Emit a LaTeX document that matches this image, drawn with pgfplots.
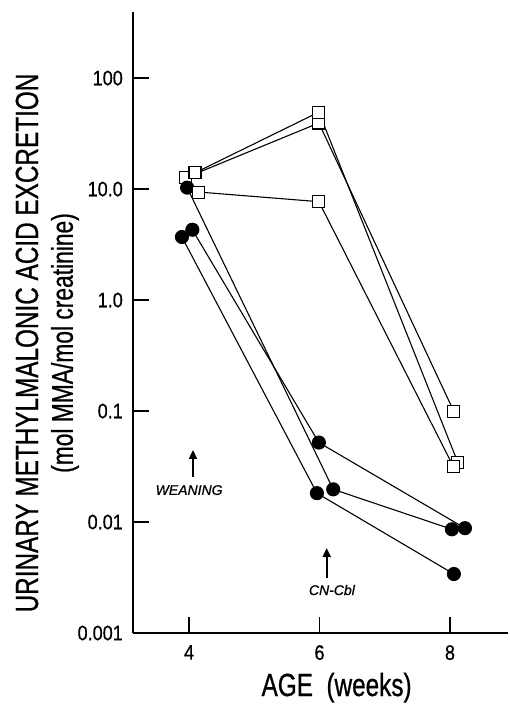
\documentclass[border=0pt]{standalone}
\usepackage{fontspec}
\setmainfont{Liberation Sans}
\newfontfamily\cond[FakeStretch=0.76,FakeBold=0.7]{Liberation Sans}
\newfontfamily\condt[FakeStretch=0.86,FakeBold=0.6]{Liberation Sans}
\newfontfamily\annot[FakeBold=0.9]{Liberation Sans}
\usepackage{pgfplots}
\pgfplotsset{compat=1.18}
\usetikzlibrary{arrows.meta}
\begin{document}
\begin{tikzpicture}
\begin{axis}[
  scale only axis, width=375pt, height=621pt,
  xmin=3.14, xmax=8.89,
  ymode=log, log basis y=10, ymin=0.001, ymax=394,
  axis x line*=bottom, axis y line*=left,
  axis line style={line width=1.8pt},
  xtick={4,6,8}, xticklabels={4,6,8},
  ytick={0.001,0.01,0.1,1,10,100},
  yticklabels={0.001,0.01,0.1,1.0,10.0,100},
  yminorticks=false, xminorticks=false,
  tick align=inside, major tick length=16pt,
  tick style={line width=1.4pt, black},
  yticklabel style={font=\condt\fontsize{21}{21}\selectfont, inner sep=0pt, xshift=-10pt},
  xticklabel style={font=\condt\fontsize{21}{21}\selectfont, inner sep=0pt, yshift=-12pt},
  clip=false,
]
% square series (partly hidden one first)
\addplot[black, line width=1.1pt, mark=square*, mark size=6pt, mark options={fill=white, line width=1.1pt}]
  coordinates {(3.94,12.6) (5.99,39.4) (8.06,0.099)};
% circle series
\addplot[black, line width=1.1pt, mark=*, mark size=6.5pt, mark options={fill=black}]
  coordinates {(3.97,10.3) (6.21,0.0197) (8.03,0.0086)};
\addplot[black, line width=1.1pt, mark=*, mark size=6.5pt, mark options={fill=black}]
  coordinates {(3.89,3.7) (5.96,0.0182) (8.06,0.0034)};
\addplot[black, line width=1.1pt, mark=*, mark size=6.5pt, mark options={fill=black}]
  coordinates {(4.05,4.3) (5.99,0.052) (8.23,0.0088)};
% remaining square series
\addplot[black, line width=1.1pt, mark=square*, mark size=6pt, mark options={fill=white, line width=1.1pt}]
  coordinates {(4.09,14.0) (5.99,49.4) (8.12,0.0345)};
\addplot[black, line width=1.1pt, mark=square*, mark size=6pt, mark options={fill=white, line width=1.1pt}]
  coordinates {(4.15,9.4) (5.99,7.7) (8.05,0.0318)};
% annotations
\draw[line width=2pt, -{Triangle[length=9pt,width=8pt]}] (axis cs:4.06,0.0254) -- (axis cs:4.06,0.0446);
\node[font=\annot\itshape\fontsize{14}{14}\selectfont] at (axis cs:4.0,0.0194) {WEANING};
\draw[line width=2pt, -{Triangle[length=9pt,width=8pt]}] (axis cs:6.11,0.00313) -- (axis cs:6.11,0.00583);
\node[font=\annot\itshape\fontsize{14}{14}\selectfont] at (axis cs:6.19,0.00244) {CN-Cbl};
% axis labels
\node[rotate=90, font=\cond\fontsize{32}{32}\selectfont] at ([xshift=-106pt]rel axis cs:0,0.467) {URINARY METHYLMALONIC ACID EXCRETION};
\node[rotate=90, font=\cond\fontsize{30}{30}\selectfont] at ([xshift=-68pt]rel axis cs:0,0.467) {(mol MMA/mol creatinine)};
\node[anchor=base, font=\cond\fontsize{32}{32}\selectfont] at ([yshift=-63pt]rel axis cs:0.543,0) {AGE\ \ (weeks)};
\end{axis}
\pgfresetboundingbox
\path[use as bounding box] (-133pt,-71pt) rectangle (376pt,633pt);
\end{tikzpicture}
\end{document}
